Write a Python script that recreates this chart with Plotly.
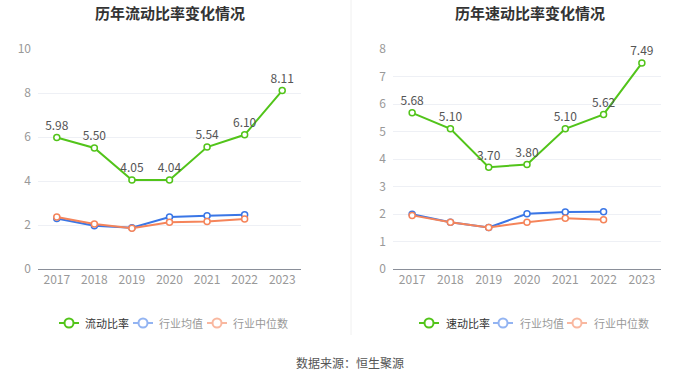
import plotly.graph_objects as go

years = ["2017", "2018", "2019", "2020", "2021", "2022", "2023"]

current_ratio = [5.98, 5.50, 4.05, 4.04, 5.54, 6.10, 8.11]
current_ind_mean = [2.30, 1.97, 1.88, 2.36, 2.42, 2.47]
current_ind_median = [2.36, 2.05, 1.85, 2.12, 2.16, 2.27]

quick_ratio = [5.68, 5.10, 3.70, 3.80, 5.10, 5.62, 7.49]
quick_ind_mean = [1.99, 1.70, 1.51, 2.01, 2.07, 2.08]
quick_ind_median = [1.95, 1.70, 1.51, 1.70, 1.85, 1.79]

titles = ["历年流动比率变化情况", "历年速动比率变化情况"]
legend_left = ["流动比率", "行业均值", "行业中位数"]
legend_right = ["速动比率", "行业均值", "行业中位数"]
source_text = "数据来源：恒生聚源"

GREEN = "#52c41a"
BLUE = "#3a76e6"
ORANGE = "#f5845a"
BLUE_L = "#93b4f2"
ORANGE_L = "#f9b8a0"

W, H = 700, 378
FONT = "Noto Sans CJK SC"


def px(x):
    return x / W


def py(y):
    return 1 - y / H


fig = go.Figure()


def add_series(xa, ya, main, mean, median):
    fig.add_trace(go.Scatter(
        x=years[:len(mean)], y=mean, mode="lines+markers", xaxis=xa, yaxis=ya,
        line=dict(color=BLUE, width=2),
        marker=dict(symbol="circle", size=6, color="white", line=dict(color=BLUE, width=1.5)),
        showlegend=False, cliponaxis=False))
    fig.add_trace(go.Scatter(
        x=years[:len(median)], y=median, mode="lines+markers", xaxis=xa, yaxis=ya,
        line=dict(color=ORANGE, width=2),
        marker=dict(symbol="circle", size=6, color="white", line=dict(color=ORANGE, width=1.5)),
        showlegend=False, cliponaxis=False))
    fig.add_trace(go.Scatter(
        x=years, y=main, mode="lines+markers+text", xaxis=xa, yaxis=ya,
        line=dict(color=GREEN, width=2),
        marker=dict(symbol="circle", size=6, color="white", line=dict(color=GREEN, width=1.5)),
        text=[f"{v:.2f}" for v in main], textposition="top center",
        textfont=dict(family=FONT, size=12, color="#555555"),
        showlegend=False, cliponaxis=False))


add_series("x", "y", current_ratio, current_ind_mean, current_ind_median)
add_series("x2", "y2", quick_ratio, quick_ind_mean, quick_ind_median)

ydom = [py(269), py(49)]
axis_common = dict(
    type="category", range=[-0.5, 6.5], showgrid=False, zeroline=False,
    showline=True, linecolor="#8a8f99", linewidth=1, ticks="",
    tickfont=dict(family=FONT, size=12, color="#999999"), fixedrange=True,
)
yaxis_common = dict(
    showgrid=True, gridcolor="#eef0f5", gridwidth=1, zeroline=False, showline=False,
    ticks="", tickfont=dict(family=FONT, size=12, color="#999999"), ticklabelstandoff=6,
    domain=ydom, fixedrange=True,
)

fig.update_layout(
    width=W, height=H, margin=dict(l=0, r=0, t=0, b=0, autoexpand=False),
    paper_bgcolor="white", plot_bgcolor="white",
    font=dict(family=FONT),
    xaxis=dict(domain=[px(38), px(301)], anchor="y", **axis_common),
    yaxis=dict(range=[0, 10], dtick=2, anchor="x", **yaxis_common),
    xaxis2=dict(domain=[px(393), px(661)], anchor="y2", **axis_common),
    yaxis2=dict(range=[0, 8], dtick=1, anchor="x2", **yaxis_common),
    showlegend=False,
)

annotations = []
shapes = []

# titles
for t, cx in zip(titles, [170, 530]):
    annotations.append(dict(
        text=f"<b>{t}</b>", x=px(cx), y=py(12), xref="paper", yref="paper",
        showarrow=False, xanchor="center", yanchor="middle",
        font=dict(family=FONT, size=15, color="#333333")))

# separator
shapes.append(dict(type="line", xref="paper", yref="paper",
                   x0=px(351), x1=px(351), y0=py(0), y1=py(335),
                   line=dict(color="#f0f0f0", width=1)))

# manual legends
def add_legend(labels, centers, text_starts):
    sym_colors = [GREEN, BLUE_L, ORANGE_L]
    txt_colors = ["#333333", "#999999", "#999999"]
    ly = 323
    r = 4.5
    for lab, cx, tx, sc, tc in zip(labels, centers, text_starts, sym_colors, txt_colors):
        shapes.append(dict(type="line", xref="paper", yref="paper",
                           x0=px(cx - 10), x1=px(cx + 10), y0=py(ly), y1=py(ly),
                           line=dict(color=sc, width=2)))
        shapes.append(dict(type="circle", xref="paper", yref="paper",
                           x0=px(cx - r), x1=px(cx + r), y0=py(ly + r), y1=py(ly - r),
                           fillcolor="white", line=dict(color=sc, width=2)))
        annotations.append(dict(
            text=lab, x=px(tx), y=py(ly), xref="paper", yref="paper",
            showarrow=False, xanchor="left", yanchor="middle",
            font=dict(family=FONT, size=11, color=tc)))


add_legend(legend_left, [69, 143, 217], [83, 157, 231])
add_legend(legend_right, [429, 503, 577], [444, 518, 592])

annotations.append(dict(
    text=source_text, x=px(350), y=py(362), xref="paper", yref="paper",
    showarrow=False, xanchor="center", yanchor="middle",
    font=dict(family=FONT, size=12, color="#555555")))

fig.update_layout(annotations=annotations, shapes=shapes)

post = (
    "document.documentElement.style.margin='0';"
    "document.documentElement.style.overflow='hidden';"
    "document.body.style.margin='0';"
    "document.body.style.overflow='hidden';"
    "var gd=document.getElementById('{plot_id}');"
    "var w=gd.parentElement;"
    "w.style.position='absolute';w.style.top='0';w.style.left='0';"
)

fig.write_html("out.html", config={"displayModeBar": False}, post_script=post)
